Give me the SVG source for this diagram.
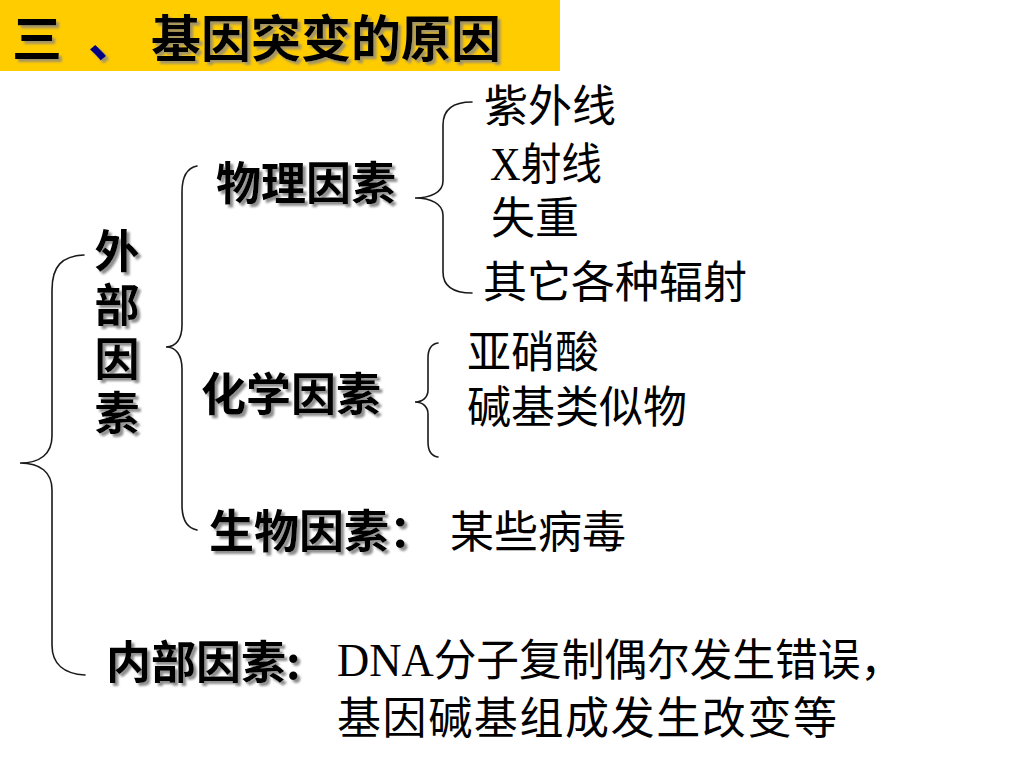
<svg xmlns="http://www.w3.org/2000/svg" width="1024" height="768" viewBox="0 0 1024 768">
<defs>
<filter id="sh" x="-10%" y="-10%" width="130%" height="140%">
<feDropShadow dx="3" dy="3" stdDeviation="1" flood-color="#7a7a7a" flood-opacity="0.85"/>
</filter>
<filter id="tsh" x="-10%" y="-10%" width="130%" height="140%">
<feDropShadow dx="3" dy="3" stdDeviation="0.8" flood-color="#9a8f70" flood-opacity="0.9"/>
</filter>
</defs>
<style>
.lbl { font-family: "Noto Sans CJK SC", sans-serif; font-weight: bold; font-size: 45px; fill: #000; filter: url(#sh); }
.vert { writing-mode: vertical-rl; letter-spacing: 9px; }
.txt { font-family: "Liberation Serif", "Noto Sans CJK SC", serif; font-weight: normal; font-size: 44px; fill: #000; }
.lat { font-size: 46px; }
.title { font-family: "Noto Sans CJK SC", sans-serif; font-weight: bold; font-size: 50px; fill: #000; filter: url(#tsh); }
.brace { fill: none; stroke: #1a1a1a; stroke-width: 1.6; stroke-linecap: round; }
</style>
<rect width="1024" height="768" fill="#ffffff"/>
<g id="title">
<rect x="0" y="0" width="560" height="71" fill="#ffcc00"/>
<text class="title" y="57"><tspan x="12">三</tspan><tspan x="88" fill="#000080">、</tspan><tspan x="151">基因突变的原因</tspan></text>
</g>
<g id="connectors">
<path class="brace" d="M 84 255 C 62 256 52 266 52 290 L 52 436 C 52 454 40 463 20 463 C 40 463 52 472 52 490 L 52 645 C 52 664 64 674 85 675"/>
<path class="brace" d="M 197 166 C 187 168 182 177 182 192 L 182 325 C 182 339 176 347 166 347 C 176 347 182 355 182 369 L 182 505 C 182 520 187 528 197 530"/>
<path class="brace" d="M 472 102 C 452 102 443 110 443 125 L 443 181 C 443 192 431 198 415 198 C 431 198 443 204 443 215 L 443 272 C 443 286 452 293 472 293"/>
<path class="brace" d="M 438 343 C 431 344 428 350 428 358 L 428 390 C 428 397 423 402 415 402 C 423 402 428 407 428 414 L 428 442 C 428 451 431 456 438 457"/>
</g>
<g id="node-external">
<text class="lbl vert" x="117" y="228">外部因素</text>
</g>
<g id="node-physical"><text class="lbl" x="216" y="200">物理因素</text></g>
<g id="node-chemical"><text class="lbl" x="201" y="411">化学因素</text></g>
<g id="node-biological"><text class="lbl" x="209" y="548">生物因素：</text></g>
<g id="node-internal"><text class="lbl" x="106" y="679">内部因素:</text></g>
<g id="node-uv"><text class="txt" x="484" y="122">紫外线</text></g>
<g id="node-xray"><text class="txt" x="490" y="180" textLength="112" lengthAdjust="spacingAndGlyphs"><tspan class="lat">X</tspan>射线</text></g>
<g id="node-weightless"><text class="txt" x="491" y="234">失重</text></g>
<g id="node-radiation"><text class="txt" x="483" y="298">其它各种辐射</text></g>
<g id="node-nitrous"><text class="txt" x="467" y="368">亚硝酸</text></g>
<g id="node-analog"><text class="txt" x="467" y="423">碱基类似物</text></g>
<g id="node-virus"><text class="txt" x="450" y="548">某些病毒</text></g>
<g id="node-internal-desc">
<text class="txt" x="337" y="676" textLength="566" lengthAdjust="spacingAndGlyphs"><tspan class="lat">DNA</tspan>分子复制偶尔发生错误，</text>
<text class="txt" x="337" y="734" textLength="500" lengthAdjust="spacing">基因碱基组成发生改变等</text>
</g>
</svg>
